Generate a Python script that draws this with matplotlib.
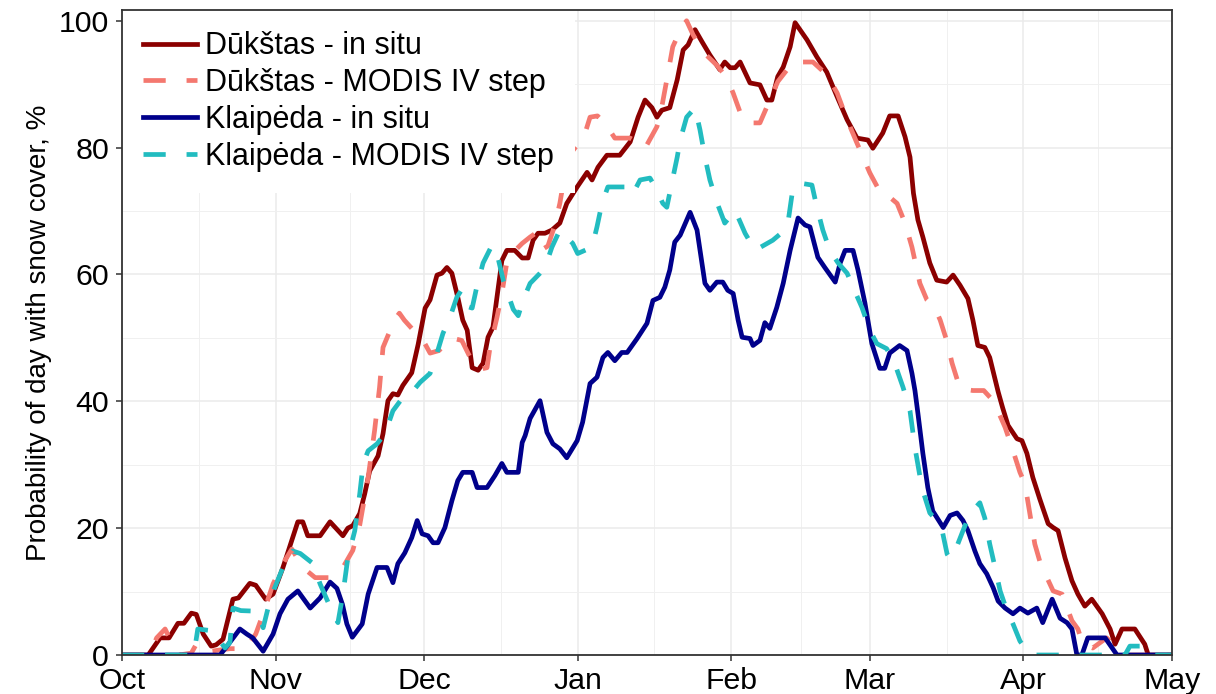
import numpy as np
import matplotlib
matplotlib.use("Agg")
import matplotlib.pyplot as plt

plt.rcParams.update({"font.family": ["Liberation Sans", "DejaVu Sans"],
                     "lines.scale_dashes": False})

# season axis: days counted from 1 October
month_starts = [0, 31, 61, 92, 123, 151, 182, 212]
month_labels = ["Oct", "Nov", "Dec", "Jan", "Feb", "Mar", "Apr", "May"]

# (day, probability %) per station / source
dukstas_insitu = [
    (0, 0), (5.3, 0), (7.7, 2.7), (9.5, 2.7), (11.3, 5), (12.5, 5), (14, 6.6), (15, 6.4),
    (16.4, 3.3), (18, 1.4), (19, 1.6), (20.4, 2.5), (22.4, 8.8), (23.5, 9), (25.8, 11.3),
    (27, 11), (29, 8.8), (30.5, 9.6), (32.5, 13.8), (35.5, 21), (36.5, 21), (37.5, 18.8),
    (40, 18.8), (42, 21), (44.6, 18.8), (45.6, 20), (46.6, 20.4), (48, 22.3), (49, 25.4),
    (50, 29), (51.7, 31.4), (52.7, 34.9), (53.7, 40.1), (54.7, 41.2), (55.7, 41),
    (56.7, 42.5), (58.5, 44.5), (59.8, 49), (61.2, 54.7), (62.2, 56), (63.6, 59.9),
    (64.6, 60.2), (65.6, 61.1), (66.6, 60.2), (67.8, 56.4), (68.8, 52.8), (69.7, 51.2),
    (70.7, 45.3), (71.9, 44.9), (72.9, 46), (73.9, 50.1), (74.9, 51.7), (75.9, 57.5),
    (76.7, 62.2), (77.7, 63.8), (79.3, 63.8), (80.8, 62.6), (82, 62.6), (83, 65.4),
    (84, 66.5), (85.4, 66.5), (86.8, 67), (88.4, 68.1), (89.8, 71.2), (91.9, 73.8),
    (93.9, 76.1), (94.9, 74.9), (96.1, 76.9), (97.9, 78.8), (100.5, 78.8), (102.6, 80.9),
    (104.2, 84.8), (105.6, 87.5), (107, 86.3), (108, 84.8), (109, 85.9), (110.6, 86.3),
    (112.1, 90.7), (113.3, 95.4), (114.3, 96.2), (115.7, 98.6), (117.1, 96.7),
    (118.7, 94.6), (120.7, 92.3), (121.7, 93.5), (122.8, 92.6), (123.8, 92.6),
    (124.8, 93.5), (126.8, 90.2), (128.8, 89.9), (130.2, 87.5), (131.2, 87.5),
    (132.4, 91.2), (133.5, 92.7), (134.9, 95.9), (135.9, 99.7), (138.3, 97), (140.3, 94.3),
    (142.3, 91.9), (144.4, 88), (146.4, 84.4), (148.4, 81.5), (150.6, 81.2), (151.6, 79.9),
    (153.6, 82.3), (155, 85), (156.7, 85), (158.1, 81.7), (159.1, 78.5), (159.8, 72.8),
    (160.7, 68.6), (161.7, 65.9), (163.1, 61.8), (164.5, 59.1), (166.5, 58.8),
    (167.8, 59.9), (169.2, 58.3), (170.8, 56.2), (171.8, 52.8), (172.8, 48.8),
    (174.2, 48.5), (175.2, 46.9), (176.9, 41.5), (177.8, 39), (178.9, 36.2), (180.7, 34.1),
    (181.7, 33.8), (182.7, 31.8), (183.9, 28), (185.3, 24.6), (187, 20.7), (188, 20.1),
    (189, 19.6), (190.4, 15.3), (191.8, 11.7), (193, 9.6), (194.4, 7.7), (195.8, 8.8),
    (197.9, 6.5), (199.5, 4.1), (200.5, 1.7), (201.9, 4.1), (204.5, 4.1), (206.5, 1.7),
    (207.2, 0), (212, 0),
]

dukstas_modis = [
    (0, 0), (5.5, 0), (7, 2.7), (8.7, 4.1), (10, 2), (11.5, 0), (14, 0.3), (15, 1.7),
    (17, 0.5), (21.8, 1), (25, 1), (27, 3.3), (28.5, 6.5), (30.5, 11.2), (32.5, 14.4),
    (34.3, 16.7), (36.5, 13.8), (39, 12.2), (42.4, 12.2), (44.6, 13.8), (46.6, 16.5),
    (48, 20.5), (49.7, 28), (51, 35.4), (52, 42.2), (52.7, 48.5), (55, 52.8), (56, 53.9),
    (57, 52.8), (58.5, 51.5), (60.8, 49.6), (62.2, 47.6), (64, 48), (66.5, 50),
    (68.6, 49.6), (70.3, 46.9), (72, 45), (73.7, 45.3), (74.3, 48.5), (75.7, 53.2),
    (76.7, 57), (77.7, 61.9), (79, 63.5), (80.8, 64.9), (82.4, 65.9), (83.5, 66.5),
    (85, 64), (86, 64.5), (87.4, 67.8), (88.4, 71.2), (90, 78.5), (92, 80.5), (93.5, 82.3),
    (94.5, 84.8), (96, 85), (97.5, 83.9), (99.5, 81.5), (102.6, 81.5), (104, 80.9),
    (105.6, 79.9), (108, 83.3), (108.6, 84.8), (110, 90.7), (111.2, 95.9), (113, 99),
    (114, 100), (115.3, 97.8), (117.3, 95.1), (120.1, 93), (122.1, 91), (123.4, 88.6),
    (125.2, 84.7), (126.2, 83.9), (128.8, 83.9), (130.8, 87.5), (132.4, 90.4),
    (135.5, 93.5), (139.5, 93.5), (142.3, 91.5), (144.4, 88.6), (146.4, 84.4),
    (148.4, 80.7), (151, 76), (153.4, 72.5), (155, 72.2), (156.5, 71.2), (158.1, 68.1),
    (159.5, 64.3), (161.1, 58.6), (162.5, 56), (164.1, 54.8), (165.2, 52.8), (166.5, 49.6),
    (167.6, 46), (169.2, 42), (171.8, 41.7), (174, 41.7), (176, 40), (178.3, 35.9),
    (179.7, 32.7), (181.3, 28.8), (182.3, 27), (183.3, 22.3), (184.3, 17.5), (185.3, 14.8),
    (186.4, 12.8), (188, 10.1), (189.8, 9.6), (191.8, 5.4), (193, 4.1), (194, 1.7),
    (196, 1.1), (198.8, 2.7), (200.9, 1.1), (202, 0), (212, 0),
]

klaipeda_insitu = [
    (0, 0), (19.8, 0), (21.2, 1.4), (23.8, 4.1), (25.2, 3.3), (26.4, 2.7), (28.5, 0.6),
    (30.5, 3.3), (31.9, 6.5), (33.5, 8.8), (35.5, 10.1), (38, 7.4), (40, 9), (42, 11.5),
    (43.4, 10.5), (44.5, 8), (45.4, 4.9), (46.5, 2.8), (48.5, 4.9), (49.7, 9.6),
    (51.5, 13.8), (53.5, 13.8), (54.7, 11.4), (55.7, 14.4), (57.1, 16.1), (58.5, 18.5),
    (59.6, 21.2), (60.6, 19.1), (61.8, 18.8), (62.8, 17.7), (63.8, 17.7), (65.2, 20.1),
    (66.6, 24.3), (67.8, 27.5), (68.8, 28.8), (70.7, 28.8), (71.7, 26.4), (73.7, 26.4),
    (75.3, 28.3), (76.7, 30.2), (77.7, 28.8), (80, 28.8), (80.8, 33.5), (81.4, 34.6),
    (82.4, 37.3), (84.4, 40.1), (85.8, 35.1), (87, 33.3), (88.4, 32.5), (89.8, 31.1),
    (91.9, 33.8), (93, 36.7), (94.5, 42.8), (95.9, 43.8), (97.1, 46.9), (98.1, 47.7),
    (99.5, 46.4), (100.9, 47.7), (102, 47.7), (104, 49.9), (106, 52.3), (107.2, 55.9),
    (108.6, 56.4), (109.6, 58), (110.6, 60.7), (111.6, 65.1), (112.7, 66.2),
    (114.7, 69.8), (116.1, 67), (117.1, 61.8), (117.7, 58.6), (118.7, 57.5),
    (120.1, 58.8), (121.3, 58.8), (122.3, 57.5), (123.4, 57), (124.4, 52.8),
    (125.2, 50.1), (126.8, 49.9), (127.4, 48.8), (128.8, 49.6), (129.8, 52.4),
    (130.8, 51.5), (132.2, 54.8), (133.5, 58.6), (134.9, 63.8), (136.5, 68.9),
    (137.9, 67.8), (138.9, 67.5), (140.5, 62.7), (141.9, 61.1), (144, 58.8), (145, 61.8),
    (146, 63.8), (147.6, 63.8), (148.6, 60.7), (150, 55.5), (151.4, 49.1), (153, 45.2),
    (154, 45.2), (155, 47.6), (157, 48.8), (158.5, 48), (159.5, 44.4), (160.1, 41.7),
    (160.7, 38.1), (161.7, 31.8), (162.7, 26.4), (163.7, 22.7), (165.8, 20.1),
    (167.2, 22), (168.6, 22.4), (169.8, 21.2), (170.8, 19.6), (172.2, 16.4),
    (173.2, 14.4), (174.6, 12.8), (175.9, 10.6), (176.9, 8.5), (178.3, 7.4), (179.9, 6.5),
    (181.3, 7.4), (182.9, 6.6), (184.7, 7.4), (185.9, 5.1), (187.8, 8.8), (189.4, 5.8),
    (190.8, 5.1), (191.8, 4.1), (192.8, 0), (193.8, 0), (195, 2.7), (198.5, 2.7),
    (200.9, 0), (212, 0),
]

klaipeda_modis = [
    (0, 0), (14.5, 0), (15.3, 4.1), (18.4, 3.8), (19.5, 2.5), (20.8, 1.1), (21.8, 2),
    (22.4, 7.4), (24, 7), (27.3, 6.9), (28.5, 4.3), (30, 9), (32.5, 13.8), (34.5, 16.4),
    (36, 16), (38.6, 14.4), (40, 11.2), (42.4, 6.9), (43.6, 5.1), (44.6, 9.6),
    (45.6, 15.3), (47, 19.6), (48, 25.4), (48.7, 30.2), (49.7, 32.2), (51.5, 33.3),
    (53.1, 34.9), (54.7, 38.5), (56.5, 40.4), (58.5, 41.4), (60.2, 43), (62.2, 44.4),
    (63.6, 47.6), (64.8, 50.7), (66.2, 53.2), (67.6, 56.4), (68.5, 57.5), (69.5, 55),
    (70.7, 54.7), (71.7, 58.3), (72.9, 61.8), (74.7, 64.6), (75.5, 64), (77, 59),
    (79, 54.5), (80, 53.5), (81, 56), (82.4, 58.6), (84.4, 60.2), (85.4, 61.1),
    (86.8, 64.3), (88.4, 67), (91, 64.9), (92, 63.3), (94.9, 64.3), (95.9, 67.5),
    (96.9, 71.2), (98.1, 73.8), (101.6, 73.8), (103, 72.5), (104.6, 74.9), (106.6, 75.2),
    (108, 73.3), (109.2, 71.2), (110, 70.6), (111, 74.4), (112.1, 78.5), (112.7, 81.2),
    (114, 84.8), (115.7, 86.3), (116.7, 82.8), (117.7, 78.5), (118.7, 74.9),
    (120.1, 71.4), (121.7, 68.1), (123.8, 70.1), (125.8, 66.5), (127.8, 63.8),
    (131.4, 65.4), (134.3, 67.3), (135.5, 73.8), (136.9, 74.4), (139.3, 74.1),
    (140.3, 70.6), (141.5, 67), (142.9, 63.8), (144.6, 61.8), (146.4, 60.2), (147.6, 58),
    (149.4, 54.8), (151, 51.2), (152.4, 49.1), (154.4, 48.3), (156, 46), (157.7, 42.2),
    (159.1, 38.5), (160.1, 32.7), (161.5, 26.4), (163.1, 22.4), (164.5, 21.2),
    (165.6, 19.6), (166.6, 15.9), (167.2, 15.2), (168.2, 16.4), (169.8, 19.6),
    (171.2, 22.3), (173.2, 24), (174.2, 21.6), (175.2, 17.5), (176.3, 13.7),
    (177.3, 10.1), (178.7, 6.9), (179.9, 4.9), (181.3, 2.2), (182.3, 1.1), (183.5, 0),
    (202.5, 0), (203.5, 1.4), (207, 1.4), (208, 0), (212, 0),
]

series = [
    ("Dūkštas - in situ", dukstas_insitu, "#8b0000", "solid"),
    ("Dūkštas - MODIS IV step", dukstas_modis, "#f4786f", "dashed"),
    ("Klaipėda - in situ", klaipeda_insitu, "#00008b", "solid"),
    ("Klaipėda - MODIS IV step", klaipeda_modis, "#22bcc0", "dashed"),
]

fig = plt.figure(figsize=(12.16, 6.94), dpi=100)
ax = fig.add_axes([122 / 1216, 1 - 655 / 694, 1050 / 1216, 645 / 694])

for label, pts, col, style in series:
    d = np.array(pts)
    line, = ax.plot(d[:, 0], d[:, 1], color=col, lw=3.4, label=label,
                    solid_joinstyle="round", dash_joinstyle="round", dash_capstyle="butt")
    if style == "dashed":
        line.set_dashes((16, 15))

ax.set_xlim(0, 212)
ax.set_ylim(0, 101.7)
ax.set_xticks(month_starts)
ax.set_xticklabels(month_labels)
ax.set_xticks([(a + b) / 2 for a, b in zip(month_starts[:-1], month_starts[1:])], minor=True)
ax.set_yticks(range(0, 101, 20))
ax.set_yticks(range(10, 100, 20), minor=True)

ax.set_axisbelow(True)
ax.grid(which="major", color="#ebebeb", lw=1.1)
ax.grid(which="minor", color="#f0f0f0", lw=0.7)
ax.tick_params(which="major", length=4.3, width=1.1, color="#333333", labelsize=21.8,
               labelcolor="black")
ax.tick_params(axis="y", pad=5)
ax.tick_params(axis="x", pad=4)
ax.tick_params(which="minor", length=0)
for sp in ax.spines.values():
    sp.set_color("#333333")
    sp.set_linewidth(1.3)
    sp.set_zorder(10)

ax.set_ylabel("Probability of day with snow cover, %", fontsize=20, labelpad=5)

ax.legend(loc="upper left", bbox_to_anchor=(0, 1), borderaxespad=0, borderpad=0.7,
          frameon=True, fancybox=False, edgecolor="none", facecolor="white", framealpha=1,
          fontsize=22, handlelength=1.75, handletextpad=0.25, labelspacing=0.22)

fig.savefig("out.png", dpi=100)
